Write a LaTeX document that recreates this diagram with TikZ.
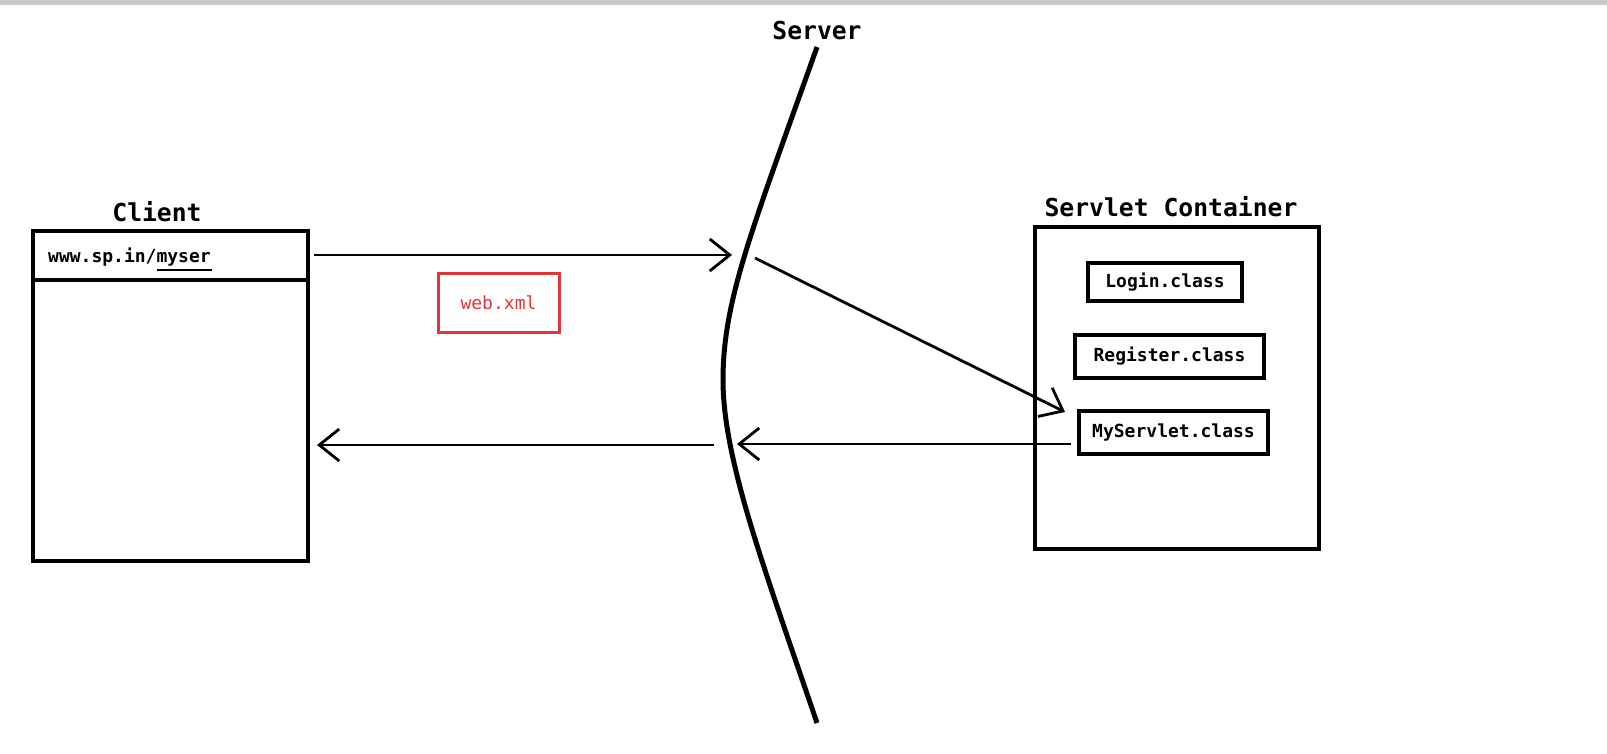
\documentclass[tikz,border=0pt]{standalone}
\usepackage{fontspec}
\newfontfamily\codefont{DejaVu Sans Mono}
\usetikzlibrary{arrows.meta}
\definecolor{xmlred}{RGB}{226,52,52}
\definecolor{topbar}{RGB}{200,201,206}
\tikzset{
  bigbox/.style={draw, line width=4.5pt, inner sep=0pt},
  classbox/.style={draw, line width=3.2pt, inner sep=0pt, font=\codefont\bfseries\fontsize{18pt}{20pt}\selectfont},
  title/.style={font=\codefont\bfseries\fontsize{24.7pt}{26pt}\selectfont, inner sep=0pt},
  smalltext/.style={font=\codefont\bfseries\fontsize{18pt}{20pt}\selectfont, inner sep=0pt},
  conn/.style={line width=2.8pt, -{Straight Barb[length=20pt, width=32pt, line width=2.8pt]}},
}
\begin{document}
\begin{tikzpicture}[x=1pt, y=-1pt]
\useasboundingbox (0,0) rectangle (1607,754);
\fill[topbar] (0,0) rectangle (1607,5);

% Client
\node[title] (clientlbl) at (157,212) {Client};
\node[bigbox, minimum width=275pt, minimum height=330pt] (client) at (170.5,396) {};
\node[bigbox, anchor=north west, minimum width=275pt, minimum height=49pt] (header) at (client.north west) {};
\node[smalltext, anchor=west] (url) at (48,257) {www.sp.in/myser};
\coordinate (ulA) at (157,270);
\coordinate (ulB) at (212,270);
\draw[line width=2.8pt] (ulA) -- (ulB);

% web.xml
\node[draw=xmlred, line width=3pt, minimum width=121pt, minimum height=58pt, inner sep=0pt,
      text=xmlred, font=\codefont\fontsize{18pt}{20pt}\selectfont] (webxml) at (498.5,303) {web.xml};

% Server
\node[title] (serverlbl) at (817,31) {Server};
\coordinate (stop) at (817,47);
\coordinate (smid) at (723,380);
\coordinate (sbot) at (817,723);
\draw[line width=5pt] (stop) .. controls (752,230) and (723,300) .. (smid)
      .. controls (723,460) and (765,570) .. (sbot);

% Servlet container
\node[title] (sclbl) at (1171,207) {Servlet Container};
\node[bigbox, minimum width=284pt, minimum height=322pt] (container) at (1177,388) {};
\node[classbox, minimum width=154pt, minimum height=38pt] (login) at (1165,282) {Login.class};
\node[classbox, minimum width=189pt, minimum height=43pt] (register) at (1169.5,356.5) {Register.class};
\node[classbox, minimum width=189pt, minimum height=43pt] (myservlet) at (1173.5,432.5) {MyServlet.class};

% Connectors
\coordinate (reqS) at (314,255);
\coordinate (reqE) at (732,255);
\coordinate (diagS) at (755,258);
\coordinate (diagE) at (1065,412);
\coordinate (respS) at (1071,444);
\coordinate (respE) at (737,444);
\coordinate (backS) at (714,445);
\coordinate (backE) at (317,445);
\draw[conn] (reqS) -- (reqE);
\draw[conn] (diagS) -- (diagE);
\draw[conn] (respS) -- (respE);
\draw[conn] (backS) -- (backE);
\end{tikzpicture}
\end{document}
